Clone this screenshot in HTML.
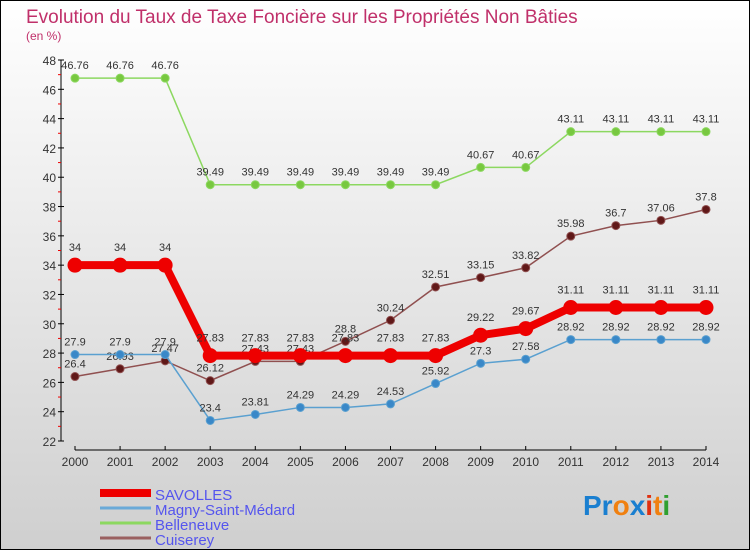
<!DOCTYPE html>
<html><head><meta charset="utf-8"><style>
body{margin:0;width:750px;height:550px;overflow:hidden}
#c{position:absolute;left:0;top:0;width:748px;height:548px;border:1px solid #000;background:linear-gradient(#ffffff,#cfcfcf);font-family:"Liberation Sans",sans-serif}
</style></head><body>
<div id="c">
<svg id="s" width="750" height="550" style="position:absolute;left:-1px;top:-1px">
<text x="26" y="23" font-size="19" fill="#c0306a">Evolution du Taux de Taxe Foncière sur les Propriétés Non Bâties</text>
<text x="26" y="40" font-size="12" fill="#c0306a">(en %)</text>
<g id="axes"></g><g id="plot"></g><g id="legend"></g>
<text x="583" y="515" font-size="28" font-weight="bold"><tspan fill="#1a7fd0">Pr</tspan><tspan fill="#f08010">o</tspan><tspan fill="#1a7fd0">x</tspan><tspan fill="#e03010">i</tspan><tspan fill="#f08010">t</tspan><tspan fill="#30a030">i</tspan></text>
</svg></div>
<script>
const years=[2000,2001,2002,2003,2004,2005,2006,2007,2008,2009,2010,2011,2012,2013,2014];
const savolles=[34,34,34,27.83,27.83,27.83,27.83,27.83,27.83,29.22,29.67,31.11,31.11,31.11,31.11];
const magny=[27.9,27.9,27.9,23.4,23.81,24.29,24.29,24.53,25.92,27.3,27.58,28.92,28.92,28.92,28.92];
const belleneuve=[46.76,46.76,46.76,39.49,39.49,39.49,39.49,39.49,39.49,40.67,40.67,43.11,43.11,43.11,43.11];
const cuiserey=[26.4,26.93,27.47,26.12,27.43,27.43,28.8,30.24,32.51,33.15,33.82,35.98,36.7,37.06,37.8];
const yTicks=[22,24,26,28,30,32,34,36,38,40,42,44,46,48];
const seriesNames=["SAVOLLES","Magny-Saint-Médard","Belleneuve","Cuiserey"];
const NS="http://www.w3.org/2000/svg";
const X=i=>75+i*(706-75)/14, Y=v=>441-(v-22)*(441-60)/26;
function mk(t,a,p){const e=document.createElementNS(NS,t);for(const k in a)e.setAttribute(k,a[k]);p.appendChild(e);return e;}
const ax=document.getElementById('axes'),pl=document.getElementById('plot'),lg=document.getElementById('legend');
let e=mk('line',{x1:61,y1:60,x2:61,y2:441,stroke:'#000','stroke-width':1},ax);

yTicks.forEach(v=>{mk('line',{x1:58,y1:Y(v),x2:64,y2:Y(v),stroke:'#000'},ax);
 mk('line',{x1:58,y1:Y(v+1),x2:61,y2:Y(v+1),stroke:v<48?'#e00':'none'},ax);
 const t=mk('text',{x:56,y:Y(v)+5,'text-anchor':'end','font-size':12,fill:'#333'},ax);t.textContent=v;
 });
e=mk('line',{x1:75,y1:450,x2:706,y2:450,stroke:'#000'},ax);

years.forEach((y,i)=>{mk('line',{x1:X(i),y1:446,x2:X(i),y2:450,stroke:'#000'},ax);
 const t=mk('text',{x:X(i),y:466,'text-anchor':'middle','font-size':12,fill:'#333'},ax);t.textContent=y;
 });
function series(d,col,dot,w,r,name){
 const g=mk('g',{},pl);
 mk('polyline',{points:d.map((v,i)=>X(i)+','+Y(v)).join(' '),fill:'none',stroke:col,'stroke-width':w},g);
 d.forEach((v,i)=>{const c=mk('circle',{cx:X(i),cy:Y(v),r:r,fill:dot,stroke:col,'stroke-width':1},g);
  
  const t=mk('text',{x:X(i),y:Y(v)-(w>5?14:9),'text-anchor':'middle','font-size':11,fill:'#333'},g);t.textContent=v;
  });
}
series(belleneuve,'#8cd860','#78c840',1.5,4,'belleneuve-series');
series(cuiserey,'#905050','#601818',1.5,4,'cuiserey-series');
series(magny,'#5aa0d0','#3a88c8',1.5,4,'magny-series');
series(savolles,'#ee0000','#ee0000',8,7,'savolles-series');
const lc=['#ee0000','#6aaad8','#8cd860','#9a6060'],lw=[8,3,3,3];
seriesNames.forEach((n,i)=>{const y=493+i*15;
 const l=mk('line',{x1:100,y1:y,x2:151,y2:y,stroke:lc[i],'stroke-width':lw[i]},lg);
 
 const t=mk('text',{x:155,y:y+7,'font-size':15,fill:'#5555ee'},lg);t.textContent=n;
 });
</script></body></html>
